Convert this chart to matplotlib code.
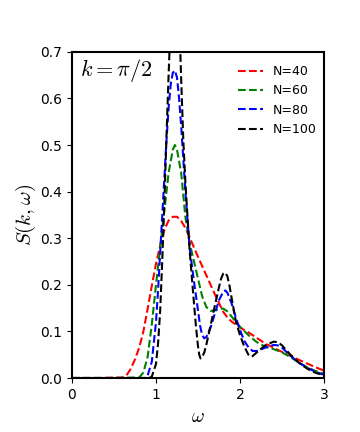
import numpy as np
import matplotlib
matplotlib.use("Agg")
import matplotlib.pyplot as plt

plt.rcParams['mathtext.fontset'] = 'cm'

# ---- data ----
x40 = [0, 0.3, 0.6, 0.65, 0.7, 0.75, 0.8, 0.85, 0.9, 0.95, 1.0, 1.05, 1.1, 1.15, 1.2, 1.25,
       1.3, 1.35, 1.4, 1.5, 1.6, 1.7, 1.8, 1.85, 1.9, 1.95, 2.0, 2.1, 2.2, 2.3, 2.4, 2.5,
       2.6, 2.7, 2.8, 2.9, 3.0]
s40 = [0, 0, 0.001, 0.006, 0.02, 0.04, 0.065, 0.10, 0.148, 0.198, 0.245, 0.285, 0.318, 0.338,
       0.346, 0.346, 0.337, 0.322, 0.302, 0.26, 0.22, 0.18, 0.142, 0.13, 0.121, 0.115, 0.108,
       0.098, 0.086, 0.074, 0.065, 0.056, 0.048, 0.039, 0.031, 0.023, 0.016]

x60 = [0, 0.5, 0.8, 0.85, 0.9, 0.95, 1.0, 1.05, 1.1, 1.15, 1.2, 1.225, 1.25, 1.3, 1.35,
       1.4, 1.45, 1.5, 1.55, 1.6, 1.65, 1.7, 1.75, 1.8, 1.85, 1.9, 1.95, 2.0, 2.1, 2.2,
       2.3, 2.4, 2.5, 2.6, 2.7, 2.8, 2.9, 3.0]
s60 = [0, 0, 0.001, 0.012, 0.045, 0.115, 0.20, 0.28, 0.36, 0.44, 0.49, 0.50, 0.49, 0.44,
       0.345, 0.29, 0.252, 0.213, 0.175, 0.152, 0.144, 0.145, 0.148, 0.149, 0.143, 0.132,
       0.12, 0.11, 0.092, 0.077, 0.067, 0.062, 0.055, 0.045, 0.033, 0.023, 0.015, 0.009]

x80 = [0, 0.5, 0.88, 0.9, 0.95, 1.0, 1.025, 1.05, 1.075, 1.1, 1.125, 1.15, 1.175, 1.2,
       1.225, 1.25, 1.275, 1.3, 1.35, 1.4, 1.45, 1.5, 1.525, 1.55, 1.575, 1.6, 1.65, 1.7,
       1.75, 1.8, 1.825, 1.85, 1.9, 1.95, 2.0, 2.05, 2.1, 2.15, 2.2, 2.3, 2.4, 2.45, 2.5,
       2.6, 2.7, 2.8, 2.9, 3.0]
s80 = [0, 0, 0.0, 0.005, 0.035, 0.12, 0.19, 0.27, 0.35, 0.43, 0.51, 0.58, 0.63, 0.655,
       0.66, 0.645, 0.6, 0.54, 0.40, 0.28, 0.21, 0.145, 0.112, 0.092, 0.085, 0.088, 0.108,
       0.138, 0.167, 0.185, 0.188, 0.183, 0.16, 0.13, 0.103, 0.08, 0.066, 0.058, 0.058,
       0.065, 0.071, 0.07, 0.065, 0.048, 0.033, 0.022, 0.013, 0.007]

x100 = [0, 0.5, 0.92, 0.95, 1.0, 1.025, 1.05, 1.075, 1.1, 1.125, 1.15, 1.175, 1.2, 1.225,
        1.25, 1.275, 1.3, 1.325, 1.35, 1.375, 1.4, 1.425, 1.45, 1.475, 1.5, 1.515, 1.53,
        1.545, 1.575, 1.6, 1.65, 1.7, 1.75, 1.775, 1.8, 1.825, 1.85, 1.875, 1.9, 1.95,
        2.0, 2.05, 2.1, 2.125, 2.15, 2.2, 2.3, 2.4, 2.45, 2.5, 2.6, 2.7, 2.8, 2.9, 3.0]
s100 = [0, 0, 0.0, 0.003, 0.03, 0.075, 0.145, 0.255, 0.38, 0.52, 0.65, 0.77, 0.86, 0.89,
        0.86, 0.78, 0.64, 0.51, 0.42, 0.345, 0.275, 0.22, 0.165, 0.112, 0.068, 0.05, 0.042,
        0.043, 0.055, 0.072, 0.113, 0.155, 0.195, 0.213, 0.224, 0.226, 0.218, 0.198, 0.172,
        0.122, 0.092, 0.068, 0.05, 0.046, 0.047, 0.055, 0.07, 0.078, 0.077, 0.07, 0.05,
        0.033, 0.02, 0.011, 0.006]

labels = ["N=40", "N=60", "N=80", "N=100"]
colors = ["red", "green", "blue", "black"]

fig = plt.figure(figsize=(3.6, 4.32), dpi=100)
ax = fig.add_axes([0.2, 0.125, 0.7, 0.755])

for xs, ys, lab, c in zip([x40, x60, x80, x100], [s40, s60, s80, s100], labels, colors):
    ax.plot(xs, ys, "--", color=c, lw=1.5, label=lab)

ax.set_xlim(0, 3)
ax.set_ylim(0, 0.7)
ax.set_xticks([0, 1, 2, 3])
ax.set_yticks(np.arange(0, 0.71, 0.1))
ax.tick_params(labelsize=10, length=3.5, width=0.8)
for sp in ax.spines.values():
    sp.set_linewidth(1.5)

ax.set_xlabel(r"$\omega$", fontsize=14)
ax.set_ylabel(r"$S(k,\omega)$", fontsize=15, labelpad=2)
ax.text(0.1, 0.66, r"$k=\pi/2$", fontsize=16, va="center")
ax.legend(loc="upper right", frameon=False, fontsize=9, handlelength=2.0,
          borderaxespad=0.2, bbox_to_anchor=(1.0, 0.982))

fig.savefig("out.png", dpi=100)
